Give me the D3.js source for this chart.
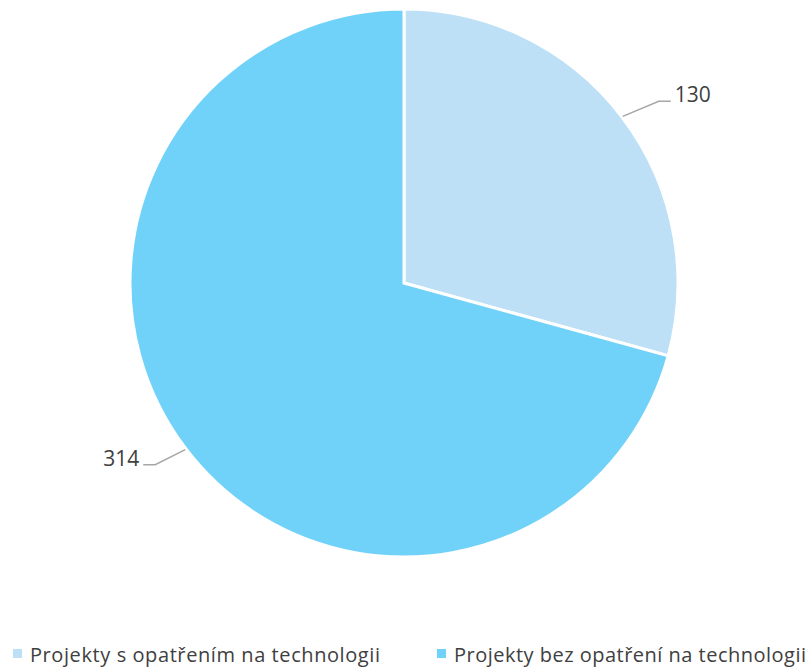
<!DOCTYPE html>
<html>
<head>
<meta charset="utf-8">
<script src="https://cdn.jsdelivr.net/npm/d3@7"></script>
<style>
body { margin: 0; background: #fff; }
</style>
</head>
<body>
<div id="chart"></div>
<script>
var categories = ["Projekty s opatřením na technologii", "Projekty bez opatření na technologii"];
var values = [130, 314];
var colors = ["#BDE0F7", "#71D2F9"];

var width = 809, height = 667;
var cx = 404, cy = 283, r = 274;

var svg = d3.select("#chart").append("svg")
    .attr("width", width)
    .attr("height", height);

var pie = d3.pie().sort(null).value(function(d) { return d; });
var arc = d3.arc().innerRadius(0).outerRadius(r);
var arcs = pie(values);

var g = svg.append("g").attr("transform", "translate(" + cx + "," + cy + ")");

g.selectAll("path")
    .data(arcs)
    .enter()
    .append("path")
    .attr("d", arc)
    .style("fill", function(d, i) { return colors[i]; })
    .style("stroke", "#fff")
    .style("stroke-width", 3);

// leader lines + labels
function pt(a, rr) { return [Math.sin(a) * rr, -Math.cos(a) * rr]; }

arcs.forEach(function(d, i) {
    var mid = (d.startAngle + d.endAngle) / 2;
    var p0 = pt(mid, r + 1);
    var right = Math.sin(mid) > 0;
    var up = Math.cos(mid) > 0;
    var p1 = [p0[0] + (right ? 36 : -30), p0[1] + (up ? -15 : 15)];
    var p2 = [p1[0] + (right ? 12 : -12), p1[1]];
    g.append("polyline")
        .attr("points", [p0, p1, p2].map(function(p) { return p.join(","); }).join(" "))
        .style("fill", "none")
        .style("stroke", "#a6a6a6")
        .style("stroke-width", 1.5);
    g.append("text")
        .attr("x", p2[0] + (right ? 4 : -4))
        .attr("y", p2[1] + 1)
        .style("text-anchor", right ? "start" : "end")
        .style("font-family", "'Open Sans', sans-serif")
        .style("font-size", "21px")
        .style("fill", "#404040")
        .text(d.data);
});

// legend
var legendX = [13, 437];
var leg = svg.selectAll(".leg")
    .data(categories)
    .enter()
    .append("g")
    .attr("class", "leg")
    .attr("transform", function(d, i) { return "translate(" + legendX[i] + ",649)"; });

leg.append("rect")
    .attr("width", 9)
    .attr("height", 9)
    .style("fill", function(d, i) { return colors[i]; });

leg.append("text")
    .attr("x", 17)
    .attr("y", 13)
    .attr("textLength", function(d, i) { return i === 0 ? 350 : 352; })
    .attr("lengthAdjust", "spacing")
    .style("font-family", "'Open Sans', sans-serif")
    .style("font-size", "20px")
    .style("fill", "#404040")
    .text(function(d) { return d; });
</script>
</body>
</html>
